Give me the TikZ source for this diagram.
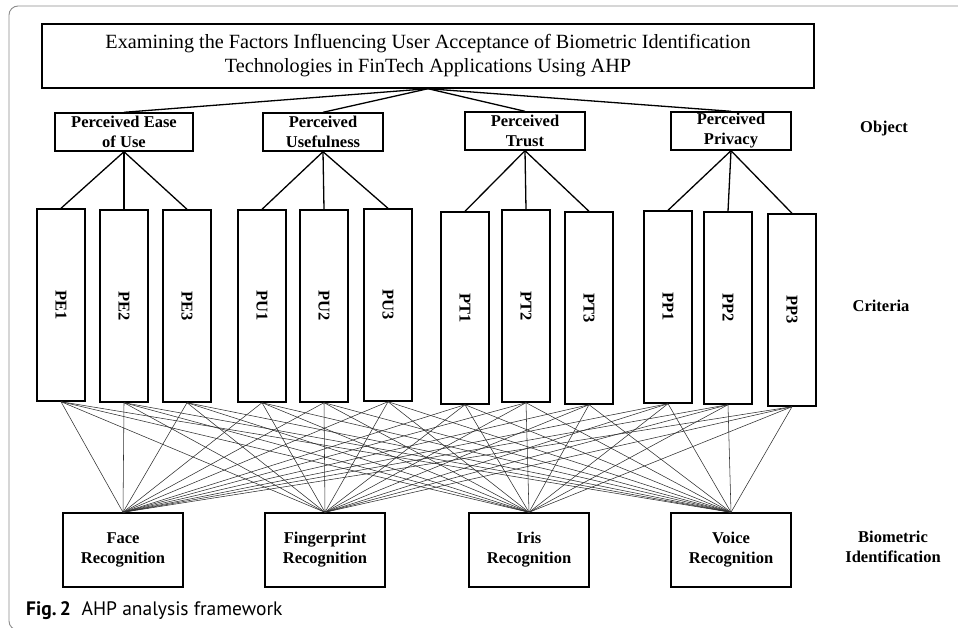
\documentclass[tikz,border=0pt]{standalone}
\usepackage{fontspec}
\setmainfont{Liberation Serif}
\newfontfamily\capfont{PT Sans}
\usepackage{xcolor}
\usepackage{tikz}
\usetikzlibrary{
  positioning
}
\definecolor{framegray}{HTML}{8C8C8C}
\definecolor{webgray}{HTML}{2E2E2E}

\begin{document}
\begin{tikzpicture}[
  x=1pt, y=-1pt,
  box/.style={draw, line width=1.4pt, inner sep=0pt, align=center},
  goal/.style={box, minimum width=772pt, minimum height=64pt,
               font=\fontsize{20.2}{24}\selectfont},
  objbox/.style={box, minimum height=38pt,
                 font=\fontsize{16.5}{20}\selectfont\bfseries},
  critbox/.style={box, minimum width=48pt, minimum height=192pt,
                  font=\fontsize{16.5}{20}\selectfont\bfseries},
  altbox/.style={box, minimum width=120pt, minimum height=74pt,
                 font=\fontsize{16.5}{20}\selectfont\bfseries},
  tier/.style={align=center, font=\fontsize{16.5}{20}\selectfont\bfseries},
  link/.style={line width=1.3pt},
  web/.style={line width=0.55pt, webgray}
]
  \useasboundingbox (0,0) rectangle (958,627);
  \clip (0,0) rectangle (958,627);

  % Figure frame, open to the right and bottom
  \draw[framegray, line width=0.9pt, rounded corners=9pt]
    (975,6) -- (9,6) -- (9,630) -- (975,630);

  % Goal
  \node[goal] (goal) at (428,56)
    {Examining the Factors Influencing User Acceptance of Biometric Identification\\
     Technologies in FinTech Applications Using AHP};

  % Objects
  \node[objbox, minimum width=138pt] (peou) at (124,132) {Perceived Ease\\of Use};
  \node[objbox, minimum width=120pt] (pu)   at (323,132) {Perceived\\Usefulness};
  \node[objbox, minimum width=120pt] (pt)   at (525,131) {Perceived\\Trust};
  \node[objbox, minimum width=120pt] (pp)   at (731,131) {Perceived\\Privacy};

  % Criteria
  \foreach \id/\lbl/\cx/\cy in {pe1/PE1/61/305, pe2/PE2/124/306, pe3/PE3/187/306,
                                pu1/PU1/262/306, pu2/PU2/324/306, pu3/PU3/388/305,
                                pt1/PT1/465/308, pt2/PT2/526/306, pt3/PT3/589/308,
                                pp1/PP1/668/307, pp2/PP2/728/308, pp3/PP3/792/310}
    \node[critbox] (\id) at (\cx,\cy) {\rotatebox{-90}{\lbl}};

  % Alternatives
  \node[altbox] (face)   at (123,550) {Face\\Recognition};
  \node[altbox] (finger) at (325,550) {Fingerprint\\Recognition};
  \node[altbox] (iris)   at (529,550) {Iris\\Recognition};
  \node[altbox] (voice)  at (731,550) {Voice\\Recognition};

  % Level labels
  \node[tier] (objlbl)  at (884,129) {Object};
  \node[tier] (critlbl) at (881,306) {Criteria};
  \node[tier] (altlbl)  at (893,547) {Biometric\\Identification};

  % Goal -> objects -> criteria
  \foreach \obj in {peou,pu,pt,pp}
    \draw[link] (goal.south) -- (\obj.north);
  \foreach \obj/\ca/\cb/\cc in {peou/pe1/pe2/pe3, pu/pu1/pu2/pu3,
                                pt/pt1/pt2/pt3, pp/pp1/pp2/pp3} {
    \draw[link] (\obj.south) -- (\ca.north);
    \draw[link] (\obj.south) -- (\cb.north);
    \draw[link] (\obj.south) -- (\cc.north);
  }

  % Criteria -> alternatives, every pair
  \foreach \crit in {pe1,pe2,pe3,pu1,pu2,pu3,pt1,pt2,pt3,pp1,pp2,pp3}
    \foreach \alt in {face,finger,iris,voice}
      \draw[web] (\crit.south) -- (\alt.north);

  % Caption
  \node[anchor=base west, inner sep=0pt, font=\capfont\fontsize{19.5}{22}\selectfont]
    (caption) at (26,615) {\textbf{Fig.\,2}\hspace{0.55em}AHP analysis framework};

\end{tikzpicture}
\end{document}
